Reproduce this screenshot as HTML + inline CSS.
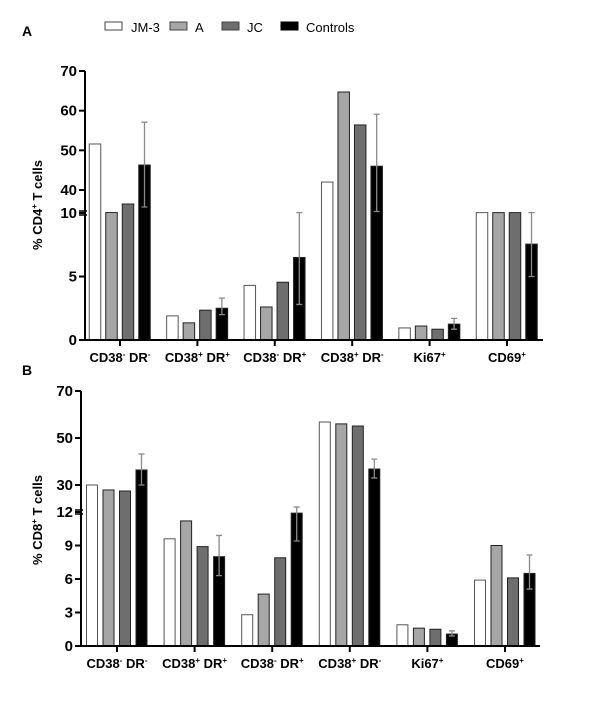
<!DOCTYPE html>
<html><head><meta charset="utf-8"><style>
body{margin:0;background:#fff;}
svg{font-family:"Liberation Sans",Arial,sans-serif;}
</style></head><body>
<svg id="c" width="611" height="700">
<text x="22" y="36" font-size="14" font-weight="bold">A</text>
<text x="22" y="375" font-size="14" font-weight="bold">B</text>
<g font-size="13">
<rect x="105" y="22" width="17" height="8" fill="#fff" stroke="#444"/><text x="131" y="32">JM-3</text>
<rect x="170" y="22" width="17" height="8" fill="#a6a6a6" stroke="#444"/><text x="195" y="32">A</text>
<rect x="222" y="22" width="17" height="8" fill="#6e6e6e" stroke="#444"/><text x="247" y="32">JC</text>
<rect x="281" y="22" width="17" height="8" fill="#000" stroke="#000"/><text x="306" y="32">Controls</text>
</g>
</svg>
<script>
const categories=[["CD38","-"," DR","-"],["CD38","+"," DR","+"],["CD38","-"," DR","+"],["CD38","+"," DR","-"],["Ki67","+","",""],["CD69","+","",""]];
const seriesNames=["JM-3","A","JC","Controls"];
const aJM3=[51.6,1.9,4.3,42,0.95,10.5];
const aA=[10.6,1.35,2.6,64.7,1.1,10.5];
const aJC=[21.7,2.35,4.55,56.4,0.85,10.5];
const aCtrl=[46.3,2.5,6.5,46,1.25,7.55];
const aErrHi=[57.1,3.3,10.5,59.1,1.7,10.5];
const aErrLo=[17.8,2.0,2.8,12,0.85,5.0];
const aTicks=[0,5,10,40,50,60,70];
const bJM3=[30,9.6,2.8,56.8,1.9,5.9];
const bA=[26.7,11.2,4.65,56,1.6,9.0];
const bJC=[26,8.9,7.9,55.1,1.5,6.1];
const bCtrl=[36.4,8.0,11.9,36.8,1.07,6.5];
const bErrHi=[43.2,9.9,15.3,41,1.35,8.15];
const bErrLo=[30,6.3,9.4,33,0.9,5.1];
const bTicks=[0,3,6,9,12,30,50,70];
const NS="http://www.w3.org/2000/svg";
const svg=document.getElementById('c');
function mk(tag,attrs,parent){const e=document.createElementNS(NS,tag);for(const k in attrs)e.setAttribute(k,attrs[k]);(parent||svg).appendChild(e);return e;}
function panel(cfg){
  const g=mk('g',{});
  
  
  function y(v){
    if(v<=cfg.lo) return cfg.y0-(v/cfg.lo)*(cfg.y0-cfg.yLo);
    if(v<=cfg.hi) return cfg.yLo-(v-cfg.lo)/(cfg.hi-cfg.lo)*(cfg.yLo-cfg.yHi);
    return cfg.yHi-(v-cfg.hi)/(cfg.max-cfg.hi)*(cfg.yHi-cfg.yTop);
  }
  const xg=i=>cfg.x0+cfg.step*i;
  const fills=["#fff","#a6a6a6","#6e6e6e","#000"];
  const series=[cfg.s0,cfg.s1,cfg.s2,cfg.s3];
  const offs=[-25,-8.5,8,24.5];
  series.forEach((s,si)=>{
    s.forEach((v,i)=>{
      const cx=xg(i)+offs[si];
      const r=mk('rect',{x:cx-cfg.bw/2,y:y(v),width:cfg.bw,height:cfg.y0-y(v),fill:fills[si],stroke:si==0?"#555":"#222","stroke-width":1},g);
      
      
    });
  });
  cfg.eh.forEach((v,i)=>{
    const cx=xg(i)+offs[3];
    const e=mk('path',{d:`M${cx},${y(v)}V${y(cfg.el[i])}M${cx-3},${y(v)}H${cx+3}M${cx-3},${y(cfg.el[i])}H${cx+3}`,stroke:"#8a8a8a","stroke-width":1.3,fill:"none"},g);
    
    
  });
  const ax=mk('path',{d:`M${cfg.ax},${cfg.yTop}V${cfg.y0}H${cfg.xEnd}`,stroke:"#000","stroke-width":2,fill:"none"},g);
  
  
  const br=mk('path',{d:`M${cfg.ax-6},${cfg.yBreak-2}H${cfg.ax+2}M${cfg.ax-6},${cfg.yBreak+2}H${cfg.ax+2}`,stroke:"#000","stroke-width":1.5},g);
  
  
  cfg.ticks.forEach(t=>{
    const yy=y(t);
    const tm=mk('line',{x1:cfg.ax-6,x2:cfg.ax,y1:yy,y2:yy,stroke:"#000","stroke-width":2},g);
    
    
    const tl=mk('text',{x:cfg.ax-8,y:yy+5,"text-anchor":"end","font-size":15,"font-weight":"bold"},g);
    tl.textContent=t;
    
    
  });
  categories.forEach((c,i)=>{
    const tm=mk('line',{x1:xg(i),x2:xg(i),y1:cfg.y0,y2:cfg.y0+6,stroke:"#000","stroke-width":2},g);
    
    
    const t=mk('text',{x:xg(i),y:cfg.y0+22,"text-anchor":"middle","font-size":13,"font-weight":"bold"},g);
    
    
    let h=c[0]+'<tspan font-size="8" dy="-5">'+c[1]+'</tspan>';
    if(c[2]) h+='<tspan dy="5">'+c[2]+'</tspan><tspan font-size="8" dy="-5">'+c[3]+'</tspan>';
    t.innerHTML=h;
  });
  const yt=mk('text',{transform:`translate(${cfg.titleX},${cfg.titleY}) rotate(-90)`,"text-anchor":"middle","font-size":13,"font-weight":"bold"},g);
  
  
  yt.innerHTML='% '+cfg.cell+'<tspan font-size="8" dy="-5">+</tspan><tspan dy="5"> T cells</tspan>';
}
panel({name:'panel-a-chart',s0:aJM3,s1:aA,s2:aJC,s3:aCtrl,eh:aErrHi,el:aErrLo,ticks:aTicks,
  lo:10,hi:40,max:70,y0:340,yLo:213,yHi:190,yTop:71,yBreak:213,ax:85,xEnd:543,x0:120,step:77.4,bw:11.5,titleX:42,titleY:205,cell:'CD4'});
panel({name:'panel-b-chart',s0:bJM3,s1:bA,s2:bJC,s3:bCtrl,eh:bErrHi,el:bErrLo,ticks:bTicks,
  lo:12,hi:30,max:70,y0:646,yLo:512,yHi:485,yTop:391,yBreak:512,ax:81,xEnd:540,x0:117,step:77.6,bw:11,titleX:42,titleY:520,cell:'CD8'});
</script>
</body></html>
